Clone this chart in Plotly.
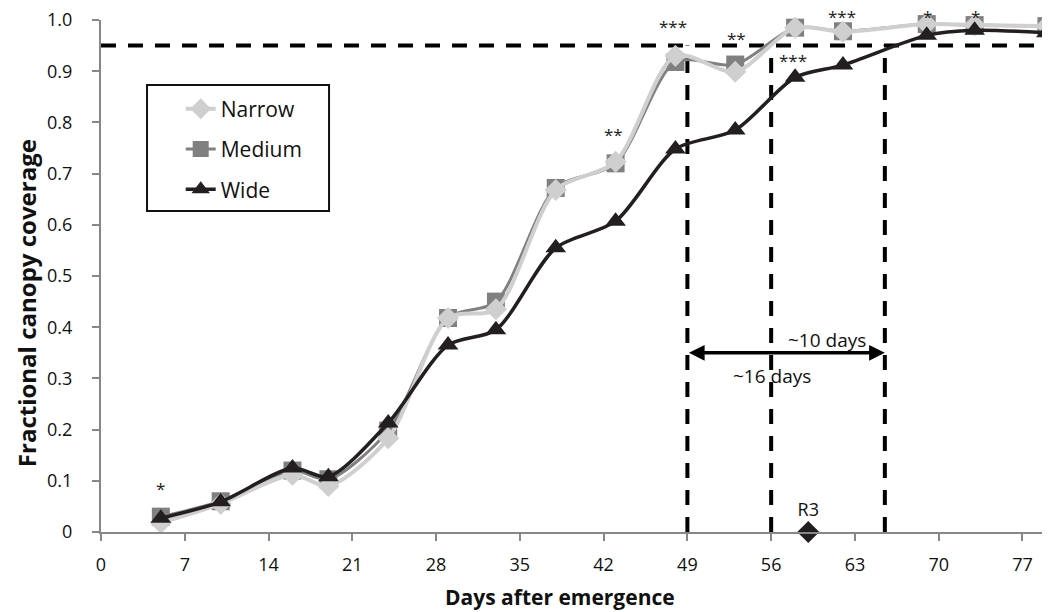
import plotly.graph_objects as go

days = [5, 10, 16, 19, 24, 29, 33, 38, 43, 48, 53, 58, 62, 69, 73, 79]
narrow = [0.018, 0.055, 0.112, 0.090, 0.183, 0.418, 0.435, 0.668, 0.723, 0.930, 0.899, 0.985, 0.977, 0.992, 0.990, 0.988]
medium = [0.030, 0.060, 0.120, 0.103, 0.198, 0.418, 0.450, 0.672, 0.720, 0.918, 0.913, 0.985, 0.978, 0.992, 0.990, 0.988]
wide = [0.027, 0.059, 0.125, 0.108, 0.213, 0.365, 0.395, 0.555, 0.607, 0.748, 0.785, 0.888, 0.912, 0.970, 0.980, 0.975]

star_x = [5, 42.8, 47.8, 53.1, 57.8, 61.9, 69.1, 73.1]
star_y = [0.084, 0.776, 0.988, 0.964, 0.921, 1.033, 1.033, 1.033]
star_anchor = ["middle", "middle", "middle", "middle", "middle", "top", "top", "top"]
star_text = ["*", "**", "***", "**", "***", "***", "*", "*"]

threshold = 0.95
vlines = [49, 56, 65.5]
arrow_from, arrow_to, arrow_y = 49, 65.5, 0.35
r3_day = 59.1

x_ticks = list(range(0, 78, 7))
y_ticks = [0, 0.1, 0.2, 0.3, 0.4, 0.5, 0.6, 0.7, 0.8, 0.9, 1.0]
y_ticktext = ["0", "0.1", "0.2", "0.3", "0.4", "0.5", "0.6", "0.7", "0.8", "0.9", "1.0"]

FONT = "Open Sans"
C_N, C_M, C_W = "#cfcfcf", "#808080", "#231f20"

fig = go.Figure()
fig.add_trace(go.Scatter(x=days, y=medium, name="Medium", mode="lines+markers",
                         line=dict(color=C_M, width=3, shape="spline", smoothing=0.8),
                         marker=dict(symbol="square", size=18, color=C_M),
                         legendgroup="m", legendrank=2, cliponaxis=False))
fig.add_trace(go.Scatter(x=days, y=narrow, name="Narrow", mode="lines+markers",
                         line=dict(color=C_N, width=4, shape="spline", smoothing=0.8),
                         marker=dict(symbol="diamond", size=17, color=C_N),
                         legendgroup="n", legendrank=1, cliponaxis=False))
fig.add_trace(go.Scatter(x=days, y=wide, name="Wide", mode="lines+markers",
                         line=dict(color=C_W, width=3.5, shape="spline", smoothing=0.8),
                         marker=dict(symbol="triangle-up", size=18, color=C_W),
                         legendgroup="w", legendrank=3, cliponaxis=False))
fig.add_trace(go.Scatter(x=[r3_day], y=[0], mode="markers+text", text=["R3"],
                         textposition="top center", textfont=dict(size=18, color="#111"),
                         marker=dict(symbol="diamond", size=17, color=C_W),
                         showlegend=False, cliponaxis=False))

shapes = [dict(type="line", xref="x", yref="y", x0=0, x1=79.3, y0=threshold, y1=threshold,
               line=dict(color="black", width=4, dash="15px,12px"), layer="below")]
for v in vlines:
    shapes.append(dict(type="line", xref="x", yref="y", x0=v, x1=v, y0=0, y1=threshold,
                       line=dict(color="black", width=4, dash="15px,12px"), layer="below"))
shapes.append(dict(type="rect", xref="paper", yref="paper", x0=0.0485, x1=0.2403,
                   y0=0.627, y1=0.873, line=dict(color="#111", width=2), fillcolor="white",
                   layer="below"))

annotations = []
# y axis spans [0, 1] over the full paper height, so paper y equals the data value
for sx, sy, st, sa in zip(star_x, star_y, star_text, star_anchor):
    annotations.append(dict(x=sx, y=sy, text=st, showarrow=False, xref="x", yref="paper",
                            xanchor="center", yanchor=sa, font=dict(size=17, color="#222")))
annotations.append(dict(x=arrow_to, y=arrow_y, ax=arrow_from, ay=arrow_y, axref="x", ayref="y",
                        xref="x", yref="y", text="", showarrow=True, arrowhead=2,
                        arrowside="end+start", arrowsize=0.9, arrowwidth=3.5, arrowcolor="black"))
annotations.append(dict(x=60.7, y=0.375, text="~10 days", showarrow=False, xref="x", yref="y",
                        font=dict(size=19, color="#111")))
annotations.append(dict(x=56.1, y=0.305, text="~16 days", showarrow=False, xref="x", yref="y",
                        font=dict(size=19, color="#111")))
# axis titles
annotations.append(dict(x=-0.0790, y=0.447, xref="paper", yref="paper", textangle=-90,
                        xanchor="center", yanchor="middle",
                        text="<b>Fractional canopy coverage</b>", showarrow=False,
                        font=dict(size=24, color="#111")))
annotations.append(dict(x=0.484, y=-0.127, xref="paper", yref="paper",
                        xanchor="center", yanchor="middle",
                        text="<b>Days after emergence</b>", showarrow=False,
                        font=dict(size=21, color="#111")))

fig.update_layout(
    width=1050, height=612,
    margin=dict(l=93, r=8, t=12, b=88, autoexpand=False),
    paper_bgcolor="white", plot_bgcolor="white",
    font=dict(family=FONT, size=18, color="#111"),
    shapes=shapes, annotations=annotations,
    legend=dict(x=0.084, y=0.866, xanchor="left", yanchor="top",
                bgcolor="rgba(0,0,0,0)", borderwidth=0,
                font=dict(size=21, family=FONT, color="#111"),
                tracegroupgap=10, itemsizing="trace"),
    xaxis=dict(range=[0, 79.3], tickmode="array", tickvals=x_ticks,
               ticktext=[str(t) for t in x_ticks], showgrid=False, zeroline=False,
               showline=True, linecolor="#878787", linewidth=2, automargin=False,
               ticks="outside", ticklen=7, tickwidth=2, tickcolor="#878787",
               ticklabelstandoff=8, tickfont=dict(size=18), ticklabeloverflow="allow"),
    yaxis=dict(range=[0, 1.0], tickmode="array", tickvals=y_ticks, ticktext=y_ticktext,
               showgrid=False, zeroline=False, showline=True, linecolor="#878787", linewidth=2,
               automargin=False, ticklabeloverflow="allow",
               ticks="outside", ticklen=7, tickwidth=2, tickcolor="#878787",
               ticklabelstandoff=16, tickfont=dict(size=18)),
)

fig.write_html("out.html")
